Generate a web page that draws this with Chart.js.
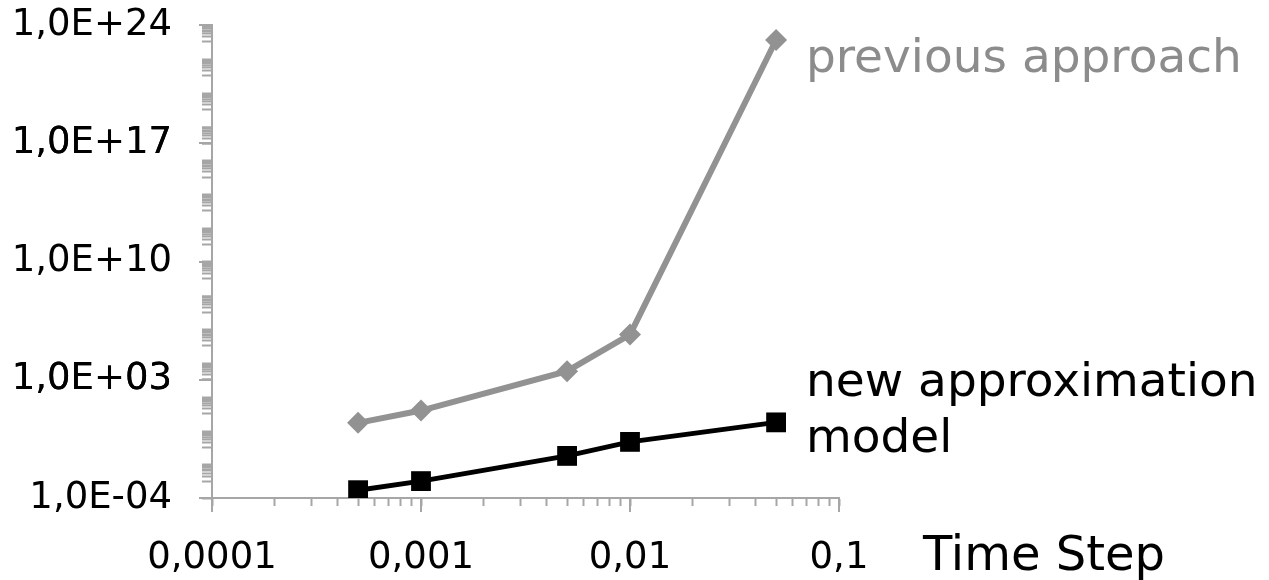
<!DOCTYPE html>
<html>
<head>
<meta charset="utf-8">
<script src="https://cdn.jsdelivr.net/npm/chart.js@4/dist/chart.umd.min.js"></script>
<style>
  html, body { margin: 0; padding: 0; background: #ffffff; }
  #wrap { width: 1269px; height: 580px; }
</style>
</head>
<body>
<div id="wrap"><canvas id="c" width="1269" height="580"></canvas></div>
<script>
// Time step values (x) and error magnitudes of the two methods (y)
const timeSteps = [0.0005, 0.001, 0.005, 0.01, 0.05];
const previousApproach = [2.8, 15, 3200, 4.7e5, 1.3e23];
const newModel = [2.9e-4, 1e-3, 0.031, 0.21, 3.0];

// Axis ranges and labelled ticks
const xMajorTicks = [0.0001, 0.001, 0.01, 0.1];
const yMajorTicks = [1e-4, 1e3, 1e10, 1e17, 1e24];

const seriesNames = ['previous approach', 'new approximation model'];
const xAxisTitle = 'Time Step';

const FONT = "'DejaVu Sans', Verdana, sans-serif";
const AXIS_GREY = '#a6a6a6';

function fmtY(v) {
  const e = Math.round(Math.log10(v));
  return '1,0E' + (e < 0 ? '-' : '+') + String(Math.abs(e)).padStart(2, '0');
}
function fmtX(v) {
  return String(v).replace('.', ',');
}
function isMajor(list, v) {
  return list.some(m => Math.abs(Math.log10(m) - Math.log10(v)) < 1e-9);
}

// Minor ticks: 1..9 of each decade on x; 1..9 of every odd decade on y
function xTickValues() {
  const out = [];
  for (let e = -4; e <= -2; e++) {
    for (let k = 1; k <= 9; k++) out.push(k * Math.pow(10, e));
  }
  out.push(0.1);
  return out;
}
function yTickValues() {
  const out = yMajorTicks.slice();
  for (let e = -3; e <= 23; e += 2) {
    for (let k = 1; k <= 9; k++) out.push(k * Math.pow(10, e));
  }
  return out.sort((a, b) => a - b);
}

// Longer tick marks at the labelled values
const majorTickPlugin = {
  id: 'majorTicks',
  afterDatasetsDraw(chart) {
    const { ctx, chartArea, scales } = chart;
    ctx.save();
    ctx.strokeStyle = AXIS_GREY;
    ctx.lineWidth = 2;
    ctx.beginPath();
    xMajorTicks.forEach(v => {
      const px = Math.round(scales.x.getPixelForValue(v));
      ctx.moveTo(px, chartArea.bottom);
      ctx.lineTo(px, chartArea.bottom + 14);
    });
    yMajorTicks.forEach(v => {
      const py = Math.round(scales.y.getPixelForValue(v));
      ctx.moveTo(chartArea.left, py);
      ctx.lineTo(chartArea.left - 13, py);
    });
    ctx.stroke();
    ctx.restore();
  }
};

// Series names next to the curves and the x axis title
const labelPlugin = {
  id: 'seriesLabels',
  afterDraw(chart) {
    const { ctx, chartArea } = chart;
    ctx.save();
    ctx.textBaseline = 'alphabetic';
    ctx.textAlign = 'left';
    const tx = chartArea.right - 33;
    ctx.font = '47px ' + FONT;
    ctx.fillStyle = '#8c8c8c';
    ctx.fillText(seriesNames[0], tx, chartArea.top + 47);
    ctx.fillStyle = '#000000';
    const words = seriesNames[1].split(' ');
    ctx.fillText(words.slice(0, 2).join(' '), tx, chartArea.top + 371);
    ctx.fillText(words.slice(2).join(' '), tx, chartArea.top + 427);
    ctx.font = '48px ' + FONT;
    ctx.fillText(xAxisTitle, chartArea.right + 84, chartArea.bottom + 72);
    ctx.restore();
  }
};

const toPoints = ys => timeSteps.map((x, i) => ({ x: x, y: ys[i] }));

new Chart(document.getElementById('c'), {
  type: 'line',
  data: {
    datasets: [
      {
        label: seriesNames[0],
        data: toPoints(previousApproach),
        borderColor: '#929292',
        backgroundColor: '#929292',
        borderWidth: 6,
        pointStyle: 'rectRot',
        pointRadius: 11,
        pointBorderWidth: 0,
        pointHoverRadius: 11
      },
      {
        label: seriesNames[1],
        data: toPoints(newModel),
        borderColor: '#000000',
        backgroundColor: '#000000',
        borderWidth: 5,
        pointStyle: 'rect',
        pointRadius: 14,
        pointBorderWidth: 0,
        pointHoverRadius: 14
      }
    ]
  },
  options: {
    responsive: false,
    animation: false,
    events: [],
    layout: { padding: { left: 0, right: 430, top: 25, bottom: 0 } },
    plugins: {
      legend: { display: false },
      tooltip: { enabled: false }
    },
    scales: {
      x: {
        type: 'logarithmic',
        min: 0.0001,
        max: 0.1,
        afterBuildTicks(scale) {
          scale.ticks = xTickValues().map(v => ({ value: v }));
        },
        afterFit(scale) {
          scale.height = 82;
          scale.paddingLeft = 0;
          scale.paddingRight = 0;
        },
        ticks: {
          autoSkip: false,
          maxRotation: 0,
          padding: 30,
          color: '#000000',
          font: { family: FONT, size: 37 },
          callback: v => isMajor(xMajorTicks, v) ? fmtX(v) : ''
        },
        grid: {
          drawOnChartArea: false,
          drawTicks: true,
          tickLength: 8,
          tickColor: AXIS_GREY,
          tickWidth: 2
        },
        border: { display: true, color: AXIS_GREY, width: 2 }
      },
      y: {
        type: 'logarithmic',
        min: 1e-4,
        max: 1e24,
        afterBuildTicks(scale) {
          scale.ticks = yTickValues().map(v => ({ value: v }));
        },
        afterFit(scale) {
          scale.width = 212;
          scale.paddingTop = 0;
          scale.paddingBottom = 0;
        },
        ticks: {
          autoSkip: false,
          padding: 30,
          color: '#000000',
          font: { family: FONT, size: 37 },
          callback: v => isMajor(yMajorTicks, v) ? fmtY(v) : ''
        },
        grid: {
          drawOnChartArea: false,
          drawTicks: true,
          tickLength: 10,
          tickColor: AXIS_GREY,
          tickWidth: 2
        },
        border: { display: true, color: AXIS_GREY, width: 2 }
      }
    }
  },
  plugins: [majorTickPlugin, labelPlugin]
});
</script>
</body>
</html>
